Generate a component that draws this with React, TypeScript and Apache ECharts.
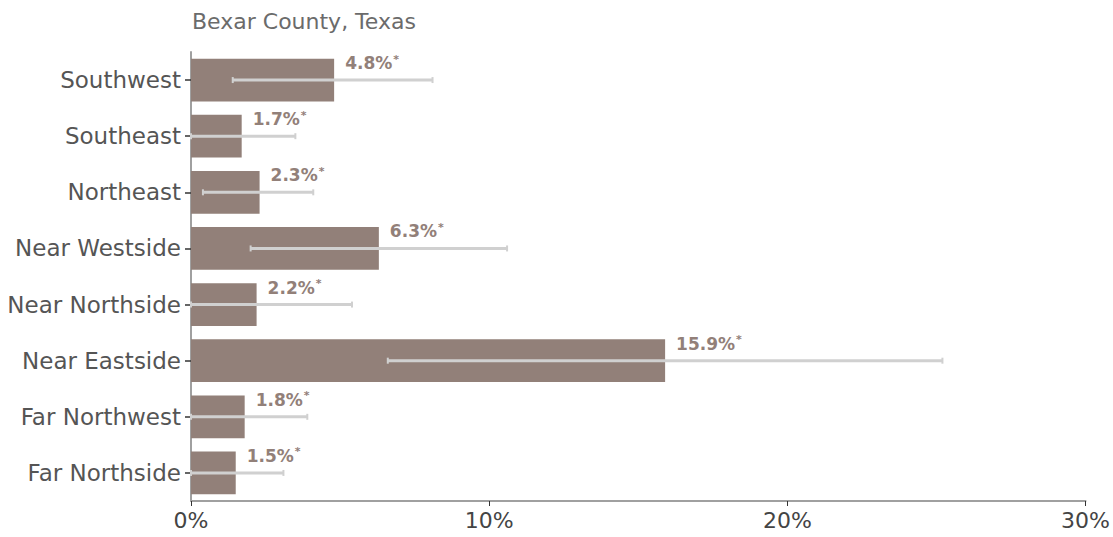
import React, { useEffect, useRef } from "react";
import * as echarts from "echarts";

const categories = ["Southwest", "Southeast", "Northeast", "Near Westside", "Near Northside", "Near Eastside", "Far Northwest", "Far Northside"];
const values = [4.8, 1.7, 2.3, 6.3, 2.2, 15.9, 1.8, 1.5];
const lowCI = [1.4, 0, 0.4, 2.0, 0, 6.6, 0, 0];
const highCI = [8.1, 3.5, 4.1, 10.6, 5.4, 25.2, 3.9, 3.1];
const xTicks = [0, 10, 20, 30];
const title = "Bexar County, Texas";

export default function App() {
  const ref = useRef<HTMLDivElement>(null);
  useEffect(() => {
    if (!ref.current) return;
    const chart = echarts.init(ref.current, undefined, { renderer: "svg" });
    const font = "'DejaVu Sans', sans-serif";
    chart.setOption({
      animation: false,
      title: {
        text: title,
        left: 187,
        top: 5,
        textStyle: { fontFamily: font, fontSize: 22, fontWeight: "normal", color: "#6b6b6b" },
      },
      grid: { left: 191, right: 26, top: 52, bottom: 36, containLabel: false },
      xAxis: {
        type: "value",
        min: xTicks[0],
        max: xTicks[xTicks.length - 1],
        interval: 10,
        axisLine: { show: true, lineStyle: { color: "#a0a0a0", width: 2 } },
        axisTick: { show: true, length: 5, lineStyle: { color: "#333", width: 1 } },
        splitLine: { show: false },
        axisLabel: { formatter: "{value}%", fontFamily: font, fontSize: 22, color: "#444", margin: 8 },
      },
      yAxis: {
        type: "category",
        data: categories,
        inverse: true,
        axisLine: { show: true, lineStyle: { color: "#a0a0a0", width: 2 } },
        axisTick: { show: true, length: 6, alignWithLabel: true, lineStyle: { color: "#333", width: 1.5 } },
        axisLabel: { fontFamily: font, fontSize: 23, color: "#555", margin: 10 },
      },
      series: [
        {
          type: "bar",
          data: values,
          barCategoryGap: "24%",
          itemStyle: { color: "#928079" },
          label: {
            show: true,
            position: "right",
            distance: 11,
            offset: [0, -17],
            formatter: (p: any) => `{v|${p.value}%}{s|*}`,
            rich: {
              v: { fontFamily: font, fontSize: 17, fontWeight: "bold", color: "#928079" },
              s: { fontFamily: font, fontSize: 11, fontWeight: "bold", color: "#928079", verticalAlign: "top", padding: [0, 0, 8, 1] },
            },
          },
          z: 1,
        },
        {
          type: "custom",
          data: categories.map((c, i) => [lowCI[i], highCI[i], i]),
          encode: { x: [0, 1], y: 2 },
          z: 5,
          renderItem: (params: any, api: any) => {
            const lo = api.coord([api.value(0), api.value(2)]);
            const hi = api.coord([api.value(1), api.value(2)]);
            const y = lo[1];
            const cap = 3;
            const style = { stroke: "#d0d0d0", lineWidth: 3 };
            return {
              type: "group",
              children: [
                { type: "line", shape: { x1: lo[0], y1: y, x2: hi[0], y2: y }, style },
                { type: "line", shape: { x1: lo[0], y1: y - cap, x2: lo[0], y2: y + cap }, style: { stroke: "#d0d0d0", lineWidth: 2 } },
                { type: "line", shape: { x1: hi[0], y1: y - cap, x2: hi[0], y2: y + cap }, style: { stroke: "#d0d0d0", lineWidth: 2 } },
              ],
            };
          },
        },
      ],
    });
    return () => chart.dispose();
  }, []);
  return <div ref={ref} style={{ width: 1113, height: 537, position: "absolute", left: 0, top: 0 }} />;
}
